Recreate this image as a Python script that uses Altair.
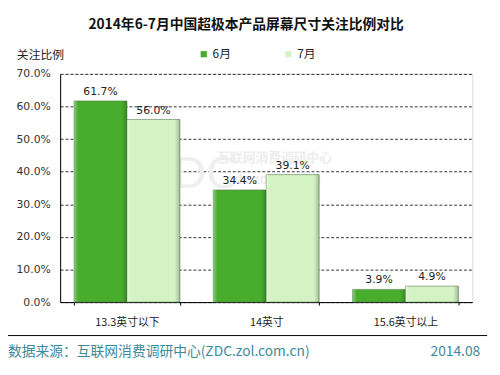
import altair as alt
import pandas as pd

categories = ["13.3英寸以下", "14英寸", "15.6英寸以上"]
months = ["6月", "7月"]
june = [61.7, 34.4, 3.9]
july = [56.0, 39.1, 4.9]
y_ticks = [0, 10, 20, 30, 40, 50, 60, 70]

rows = []
for c, a, b in zip(categories, june, july):
    rows.append({"cat": c, "month": "6月", "val": a})
    rows.append({"cat": c, "month": "7月", "val": b})
df = pd.DataFrame(rows)
df["label"] = df["val"].map(lambda v: f"{v:.1f}%")

FONT = "Noto Sans CJK SC"
W, H = 419, 232

xscale = alt.Scale(paddingInner=0.24, paddingOuter=0.1)
xaxis = alt.Axis(labelAngle=0, labelFont=FONT, labelFontSize=11,
                 labelColor="#222", ticks=True, tickSize=3, tickColor="#000",
                 tickBand="extent", domainColor="#000", labelPadding=12, grid=False)
yscale = alt.Scale(domain=[0, 70], nice=False)
yaxis = alt.Axis(values=y_ticks, labelExpr="format(datum.value, '.1f') + '%'",
                 labelFont="DejaVu Sans", labelFontSize=11, labelColor="#333",
                 labelOverlap=False, ticks=False, labelPadding=10, domainColor="#000",
                 grid=True, gridColor="#000", gridDash=[3, 2], gridWidth=0.8)

enc_x = alt.X("cat:N", sort=categories, title=None, scale=xscale, axis=xaxis)
enc_xo = alt.XOffset("month:N", sort=months)
enc_y = alt.Y("val:Q", scale=yscale, title=None, axis=yaxis)

bars = alt.Chart(df).mark_bar(stroke="#5a7a50", strokeWidth=0.6).encode(
    x=enc_x, xOffset=enc_xo, y=enc_y,
    color=alt.Color("month:N", sort=months,
                    scale=alt.Scale(domain=months, range=["#48ad2c", "#d4f3c4"]),
                    legend=alt.Legend(title=None, orient="none", direction="horizontal",
                                      legendX=140, legendY=-26, symbolType="square",
                                      symbolSize=40, symbolStrokeWidth=0,
                                      labelFont=FONT, labelFontSize=12, labelColor="#222",
                                      columnPadding=52, labelOffset=3)),
)

shade = alt.Chart(df).mark_bar(
    fill=alt.Gradient(gradient="linear", x1=0, x2=1, y1=0, y2=0, stops=[
        alt.GradientStop(offset=0, color="rgba(255,255,255,0.35)"),
        alt.GradientStop(offset=0.08, color="rgba(255,255,255,0)"),
        alt.GradientStop(offset=0.9, color="rgba(0,0,0,0)"),
        alt.GradientStop(offset=1, color="rgba(0,0,0,0.22)"),
    ])
).encode(x=enc_x, xOffset=enc_xo, y=enc_y)

labels = alt.Chart(df).mark_text(dy=-9, font="DejaVu Sans", fontSize=11, color="#222").encode(
    x=enc_x, xOffset=enc_xo, y=enc_y, text="label:N",
)

def txt(s, x, y, size, color, weight="normal", align="center", font=FONT):
    return alt.Chart(pd.DataFrame({"t": [s]})).mark_text(
        font=font, fontSize=size, color=color, fontWeight=weight, align=align, baseline="middle"
    ).encode(text="t:N", x=alt.value(x), y=alt.value(y))

wm1 = txt("ZDC", 132, 103, 44, "#efefef", font="DejaVu Sans")
wm2 = txt("互联网消费调研中心", 218, 86, 13, "#ededed", weight="bold")
wm3 = txt("zdc.zol.com.cn", 218, 108, 13, "#ededed", weight="bold")

title = txt("2014年6-7月中国超极本产品屏幕尺寸关注比例对比", 189, -50, 14, "#111", weight="bold")
ytitle = txt("关注比例", -20, -19, 12, "#222")
footer1 = txt("数据来源：互联网消费调研中心(ZDC.zol.com.cn)", -53, 283, 14, "#3d8a9c", align="left")
footer2 = txt("2014.08", 427, 283, 14, "#3d8a9c", align="right")
line = alt.Chart(pd.DataFrame({"a": [0]})).mark_rule(color="#000", strokeWidth=1).encode(
    x=alt.value(-61), x2=alt.value(434), y=alt.value(266))

chart = alt.layer(wm1, wm2, wm3, bars, shade, labels, title, ytitle, footer1, footer2, line).properties(
    width=W, height=H,
    autosize=alt.AutoSizeParams(type="none"),
    padding={"left": 53, "top": 64, "right": 20, "bottom": 63},
).configure_view(stroke="#888", strokeWidth=1).configure(background="white")

chart.save("out.html", embed_options={"renderer": "svg", "actions": False})
